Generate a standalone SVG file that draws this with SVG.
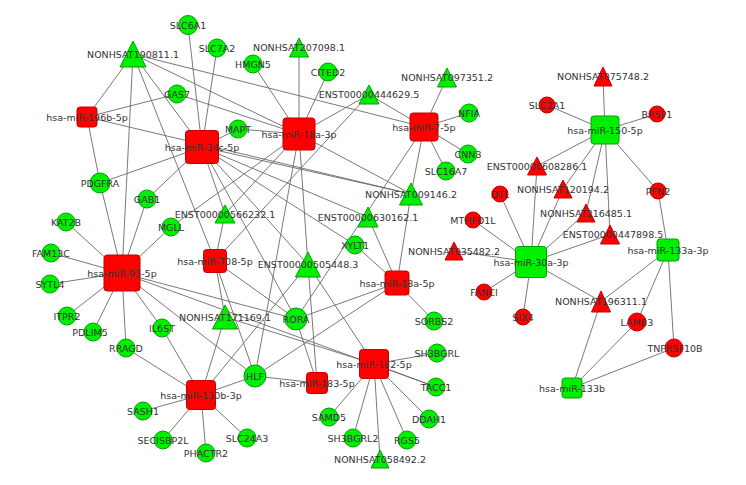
<svg xmlns="http://www.w3.org/2000/svg" width="746" height="485" viewBox="0 0 746 485">
<style>
.e line{stroke:#6a6a6a;stroke-width:0.9}
.rs{fill:#ff0000;stroke:#c40000;stroke-width:1}
.gs{fill:#00ee00;stroke:#00a000;stroke-width:1}
text{font-family:"DejaVu Sans","Liberation Sans",sans-serif;font-size:9.5px;fill:#333;text-anchor:middle;dominant-baseline:central}
</style>
<rect width="746" height="485" fill="#fff"/>
<g id="connectors" class="e">
<line x1="605" y1="130" x2="603" y2="76.5"/><line x1="605" y1="130" x2="547" y2="105"/><line x1="605" y1="130" x2="657" y2="114"/><line x1="605" y1="130" x2="537" y2="166"/><line x1="605" y1="130" x2="563" y2="189"/><line x1="605" y1="130" x2="586" y2="213"/><line x1="605" y1="130" x2="610" y2="234.5"/><line x1="605" y1="130" x2="658" y2="191"/>
<line x1="531" y1="262" x2="500" y2="194"/><line x1="531" y1="262" x2="473" y2="220"/><line x1="531" y1="262" x2="537" y2="166"/><line x1="531" y1="262" x2="563" y2="189"/><line x1="531" y1="262" x2="586" y2="213"/><line x1="531" y1="262" x2="610" y2="234.5"/><line x1="531" y1="262" x2="454" y2="251"/><line x1="531" y1="262" x2="484" y2="292"/><line x1="531" y1="262" x2="523" y2="317"/><line x1="531" y1="262" x2="601" y2="301.5"/>
<line x1="668" y1="250" x2="658" y2="191"/><line x1="668" y1="250" x2="601" y2="301.5"/><line x1="668" y1="250" x2="637" y2="322"/><line x1="668" y1="250" x2="674" y2="348"/>
<line x1="572" y1="388" x2="601" y2="301.5"/><line x1="572" y1="388" x2="637" y2="322"/><line x1="572" y1="388" x2="674" y2="348"/>
<line x1="87" y1="117" x2="133" y2="54"/><line x1="87" y1="117" x2="177" y2="94"/><line x1="87" y1="117" x2="100" y2="183"/><line x1="87" y1="117" x2="411" y2="194"/>
<line x1="202" y1="147" x2="188" y2="25"/><line x1="202" y1="147" x2="217" y2="48"/><line x1="202" y1="147" x2="133" y2="54"/><line x1="202" y1="147" x2="238" y2="129"/><line x1="202" y1="147" x2="100" y2="183"/><line x1="202" y1="147" x2="147" y2="199"/><line x1="202" y1="147" x2="225" y2="214"/><line x1="202" y1="147" x2="411" y2="194"/><line x1="202" y1="147" x2="368" y2="217"/><line x1="202" y1="147" x2="308" y2="264.5"/><line x1="202" y1="147" x2="355" y2="245"/><line x1="202" y1="147" x2="296" y2="319"/>
<line x1="299" y1="134" x2="299" y2="47.5"/><line x1="299" y1="134" x2="253" y2="64"/><line x1="299" y1="134" x2="328" y2="72"/><line x1="299" y1="134" x2="369" y2="94.5"/><line x1="299" y1="134" x2="238" y2="129"/><line x1="299" y1="134" x2="177" y2="94"/><line x1="299" y1="134" x2="133" y2="54"/><line x1="299" y1="134" x2="171" y2="227"/><line x1="299" y1="134" x2="411" y2="194"/><line x1="299" y1="134" x2="308" y2="264.5"/><line x1="299" y1="134" x2="255" y2="376"/><line x1="299" y1="134" x2="225" y2="214"/>
<line x1="424" y1="127" x2="369" y2="94.5"/><line x1="424" y1="127" x2="447" y2="77.5"/><line x1="424" y1="127" x2="469" y2="113"/><line x1="424" y1="127" x2="468" y2="154"/><line x1="424" y1="127" x2="446" y2="171"/><line x1="424" y1="127" x2="411" y2="194"/><line x1="424" y1="127" x2="133" y2="54"/><line x1="424" y1="127" x2="296" y2="319"/>
<line x1="122" y1="273" x2="100" y2="183"/><line x1="122" y1="273" x2="147" y2="199"/><line x1="122" y1="273" x2="171" y2="227"/><line x1="122" y1="273" x2="66" y2="222"/><line x1="122" y1="273" x2="51" y2="253"/><line x1="122" y1="273" x2="50" y2="284"/><line x1="122" y1="273" x2="67" y2="316"/><line x1="122" y1="273" x2="93" y2="332"/><line x1="122" y1="273" x2="126" y2="348"/><line x1="122" y1="273" x2="162" y2="328"/><line x1="122" y1="273" x2="133" y2="54"/><line x1="122" y1="273" x2="296" y2="319"/><line x1="122" y1="273" x2="255" y2="376"/><line x1="122" y1="273" x2="436" y2="387"/>
<line x1="215" y1="261" x2="133" y2="54"/><line x1="215" y1="261" x2="225" y2="214"/><line x1="215" y1="261" x2="225" y2="317"/><line x1="215" y1="261" x2="296" y2="319"/><line x1="215" y1="261" x2="255" y2="376"/><line x1="215" y1="261" x2="369" y2="94.5"/>
<line x1="397" y1="283" x2="411" y2="194"/><line x1="397" y1="283" x2="368" y2="217"/><line x1="397" y1="283" x2="355" y2="245"/><line x1="397" y1="283" x2="434" y2="321"/><line x1="397" y1="283" x2="296" y2="319"/><line x1="397" y1="283" x2="255" y2="376"/>
<line x1="201" y1="395" x2="126" y2="348"/><line x1="201" y1="395" x2="162" y2="328"/><line x1="201" y1="395" x2="143" y2="411"/><line x1="201" y1="395" x2="163" y2="440"/><line x1="201" y1="395" x2="206" y2="453"/><line x1="201" y1="395" x2="247" y2="438"/><line x1="201" y1="395" x2="255" y2="376"/><line x1="201" y1="395" x2="225" y2="317"/><line x1="201" y1="395" x2="308" y2="264.5"/>
<line x1="374" y1="364" x2="437" y2="353"/><line x1="374" y1="364" x2="436" y2="387"/><line x1="374" y1="364" x2="429" y2="419"/><line x1="374" y1="364" x2="407" y2="440"/><line x1="374" y1="364" x2="380" y2="459"/><line x1="374" y1="364" x2="353" y2="438"/><line x1="374" y1="364" x2="329" y2="417"/><line x1="374" y1="364" x2="225" y2="317"/><line x1="374" y1="364" x2="308" y2="264.5"/>
<line x1="317" y1="383" x2="255" y2="376"/><line x1="317" y1="383" x2="296" y2="319"/><line x1="317" y1="383" x2="308" y2="264.5"/>
</g>
<g id="SLC6A1"><circle class="gs" cx="188" cy="25" r="9.5"/><text x="188" y="25">SLC6A1</text></g>
<g id="SLC7A2"><circle class="gs" cx="217" cy="48" r="9"/><text x="217" y="48">SLC7A2</text></g>
<g id="HMGN5"><circle class="gs" cx="253" cy="64" r="9"/><text x="253" y="64">HMGN5</text></g>
<g id="CITED2"><circle class="gs" cx="328" cy="72" r="9"/><text x="328" y="72">CITED2</text></g>
<g id="GAS7"><circle class="gs" cx="177" cy="94" r="9"/><text x="177" y="94">GAS7</text></g>
<g id="MAPT"><circle class="gs" cx="238" cy="129" r="9"/><text x="238" y="129">MAPT</text></g>
<g id="NFIA"><circle class="gs" cx="469" cy="113" r="9"/><text x="469" y="113">NFIA</text></g>
<g id="CNN3"><circle class="gs" cx="468" cy="154" r="9"/><text x="468" y="154">CNN3</text></g>
<g id="SLC16A7"><circle class="gs" cx="446" cy="171" r="9"/><text x="446" y="171">SLC16A7</text></g>
<g id="PDGFRA"><circle class="gs" cx="100" cy="183" r="10"/><text x="100" y="183">PDGFRA</text></g>
<g id="GAB1"><circle class="gs" cx="147" cy="199" r="9"/><text x="147" y="199">GAB1</text></g>
<g id="MGLL"><circle class="gs" cx="171" cy="227" r="9"/><text x="171" y="227">MGLL</text></g>
<g id="KAT2B"><circle class="gs" cx="66" cy="222" r="9"/><text x="66" y="222">KAT2B</text></g>
<g id="FAM13C"><circle class="gs" cx="51" cy="253" r="9"/><text x="51" y="253">FAM13C</text></g>
<g id="SYTL4"><circle class="gs" cx="50" cy="284" r="9"/><text x="50" y="284">SYTL4</text></g>
<g id="ITPR2"><circle class="gs" cx="67" cy="316" r="9"/><text x="67" y="316">ITPR2</text></g>
<g id="PDLIM5"><circle class="gs" cx="93" cy="332" r="9"/><text x="90" y="332">PDLIM5</text></g>
<g id="IL6ST"><circle class="gs" cx="162" cy="328" r="9"/><text x="162" y="328">IL6ST</text></g>
<g id="RRAGD"><circle class="gs" cx="126" cy="348" r="9"/><text x="126" y="348">RRAGD</text></g>
<g id="SASH1"><circle class="gs" cx="143" cy="411" r="9"/><text x="143" y="411">SASH1</text></g>
<g id="SECISBP2L"><circle class="gs" cx="163" cy="440" r="9"/><text x="163" y="440">SECISBP2L</text></g>
<g id="PHACTR2"><circle class="gs" cx="206" cy="453" r="9"/><text x="206" y="453">PHACTR2</text></g>
<g id="SLC24A3"><circle class="gs" cx="247" cy="438" r="9"/><text x="247" y="438">SLC24A3</text></g>
<g id="HLF"><circle class="gs" cx="255" cy="376" r="11"/><text x="255" y="376">HLF</text></g>
<g id="RORA"><circle class="gs" cx="296" cy="319" r="11"/><text x="296" y="319">RORA</text></g>
<g id="XYLT1"><circle class="gs" cx="355" cy="245" r="9"/><text x="355" y="245">XYLT1</text></g>
<g id="SORBS2"><circle class="gs" cx="434" cy="321" r="9"/><text x="434" y="321">SORBS2</text></g>
<g id="SH3BGRL"><circle class="gs" cx="437" cy="353" r="9"/><text x="437" y="353">SH3BGRL</text></g>
<g id="TACC1"><circle class="gs" cx="436" cy="387" r="9"/><text x="436" y="387">TACC1</text></g>
<g id="DDAH1"><circle class="gs" cx="429" cy="419" r="9"/><text x="429" y="419">DDAH1</text></g>
<g id="RGS5"><circle class="gs" cx="407" cy="440" r="9"/><text x="407" y="440">RGS5</text></g>
<g id="SH3BGRL2"><circle class="gs" cx="353" cy="438" r="9"/><text x="353" y="438">SH3BGRL2</text></g>
<g id="SAMD5"><circle class="gs" cx="329" cy="417" r="9"/><text x="329" y="417">SAMD5</text></g>
<g id="SLC2A1"><circle class="rs" cx="547" cy="105" r="8"/><text x="547" y="105">SLC2A1</text></g>
<g id="BASP1"><circle class="rs" cx="657" cy="114" r="8"/><text x="657" y="114">BASP1</text></g>
<g id="PFN2"><circle class="rs" cx="658" cy="191" r="8"/><text x="658" y="191">PFN2</text></g>
<g id="DTL"><circle class="rs" cx="500" cy="194" r="8"/><text x="500" y="194">DTL</text></g>
<g id="MTHFD1L"><circle class="rs" cx="473" cy="220" r="8"/><text x="473" y="220">MTHFD1L</text></g>
<g id="FANCI"><circle class="rs" cx="484" cy="292" r="8"/><text x="484" y="292">FANCI</text></g>
<g id="SIX4"><circle class="rs" cx="523" cy="317" r="8"/><text x="523" y="317">SIX4</text></g>
<g id="LAMB3"><circle class="rs" cx="637" cy="322" r="9"/><text x="637" y="322">LAMB3</text></g>
<g id="TNFRSF10B"><circle class="rs" cx="674" cy="348" r="9"/><text x="675" y="348">TNFRSF10B</text></g>
<g id="NONHSAT190811.1"><polygon class="gs" points="133,41 146,67 120,67"/><text x="133" y="54">NONHSAT190811.1</text></g>
<g id="NONHSAT207098.1"><polygon class="gs" points="299,38 308.5,57 289.5,57"/><text x="299" y="47.5">NONHSAT207098.1</text></g>
<g id="ENST00000444629.5"><polygon class="gs" points="369,85 379,104 359,104"/><text x="369" y="94.5">ENST00000444629.5</text></g>
<g id="NONHSAT097351.2"><polygon class="gs" points="447,68 456.5,87 437.5,87"/><text x="447" y="77.5">NONHSAT097351.2</text></g>
<g id="ENST00000566232.1"><polygon class="gs" points="225,205 235,223 215,223"/><text x="225" y="214">ENST00000566232.1</text></g>
<g id="NONHSAT009146.2"><polygon class="gs" points="411,183 422.5,205 399.5,205"/><text x="411" y="194">NONHSAT009146.2</text></g>
<g id="ENST00000630162.1"><polygon class="gs" points="368,207 378,227 358,227"/><text x="368" y="217">ENST00000630162.1</text></g>
<g id="ENST00000505448.3"><polygon class="gs" points="308,252 320.5,277 295.5,277"/><text x="308" y="264.5">ENST00000505448.3</text></g>
<g id="NONHSAT171169.1"><polygon class="gs" points="225,305 237.5,329 212.5,329"/><text x="225" y="317">NONHSAT171169.1</text></g>
<g id="NONHSAT058492.2"><polygon class="gs" points="380,450 389,468 371,468"/><text x="380" y="459">NONHSAT058492.2</text></g>
<g id="NONHSAT075748.2"><polygon class="rs" points="603,67 612,86 594,86"/><text x="603" y="76.5">NONHSAT075748.2</text></g>
<g id="ENST00000608286.1"><polygon class="rs" points="537,157 546.5,175 527.5,175"/><text x="537" y="166">ENST00000608286.1</text></g>
<g id="NONHSAT120194.2"><polygon class="rs" points="563,180 572,198 554,198"/><text x="563" y="189">NONHSAT120194.2</text></g>
<g id="NONHSAT216485.1"><polygon class="rs" points="586,204 595,222 577,222"/><text x="586" y="213">NONHSAT216485.1</text></g>
<g id="ENST00000447898.5"><polygon class="rs" points="610,225 619.5,244 600.5,244"/><text x="613" y="234.5">ENST00000447898.5</text></g>
<g id="NONHSAT035482.2"><polygon class="rs" points="454,242 463,260 445,260"/><text x="454" y="251">NONHSAT035482.2</text></g>
<g id="NONHSAT196311.1"><polygon class="rs" points="601,291 610.5,312 591.5,312"/><text x="601" y="301.5">NONHSAT196311.1</text></g>
<g id="hsa-miR-196b-5p"><rect class="rs" x="77" y="107" width="20" height="20" rx="3"/><text x="87" y="117">hsa-miR-196b-5p</text></g>
<g id="hsa-miR-34c-5p"><rect class="rs" x="185.5" y="130.5" width="33" height="33" rx="3"/><text x="202" y="147">hsa-miR-34c-5p</text></g>
<g id="hsa-miR-18a-3p"><rect class="rs" x="283" y="118" width="32" height="32" rx="3"/><text x="299" y="134">hsa-miR-18a-3p</text></g>
<g id="hsa-miR-7-5p"><rect class="rs" x="410" y="113" width="28" height="28" rx="3"/><text x="424" y="127">hsa-miR-7-5p</text></g>
<g id="hsa-miR-93-5p"><rect class="rs" x="104" y="255" width="36" height="36" rx="3"/><text x="122" y="273">hsa-miR-93-5p</text></g>
<g id="hsa-miR-708-5p"><rect class="rs" x="203.5" y="249.5" width="23" height="23" rx="3"/><text x="215" y="261">hsa-miR-708-5p</text></g>
<g id="hsa-miR-18a-5p"><rect class="rs" x="385" y="271" width="24" height="24" rx="3"/><text x="397" y="283">hsa-miR-18a-5p</text></g>
<g id="hsa-miR-130b-3p"><rect class="rs" x="186.5" y="380.5" width="29" height="29" rx="3"/><text x="201" y="395">hsa-miR-130b-3p</text></g>
<g id="hsa-miR-182-5p"><rect class="rs" x="359.5" y="349.5" width="29" height="29" rx="3"/><text x="374" y="364">hsa-miR-182-5p</text></g>
<g id="hsa-miR-183-5p"><rect class="rs" x="306.5" y="372.5" width="21" height="21" rx="3"/><text x="317" y="383">hsa-miR-183-5p</text></g>
<g id="hsa-miR-150-5p"><rect class="gs" x="591" y="116" width="28" height="28" rx="3"/><text x="605" y="130">hsa-miR-150-5p</text></g>
<g id="hsa-miR-30a-3p"><rect class="gs" x="515.5" y="246.5" width="31" height="31" rx="3"/><text x="531" y="262">hsa-miR-30a-3p</text></g>
<g id="hsa-miR-133a-3p"><rect class="gs" x="657" y="239" width="22" height="22" rx="3"/><text x="668" y="250">hsa-miR-133a-3p</text></g>
<g id="hsa-miR-133b"><rect class="gs" x="562" y="378" width="20" height="20" rx="3"/><text x="572" y="388">hsa-miR-133b</text></g>
</svg>
